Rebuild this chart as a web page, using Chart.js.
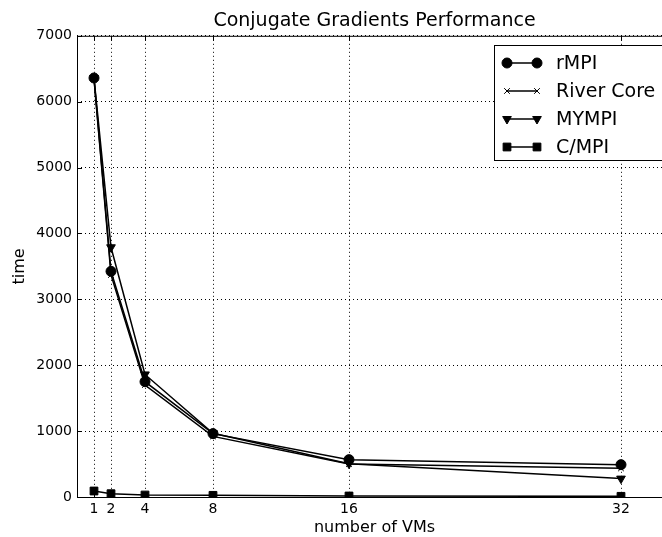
<!DOCTYPE html>
<html>
<head>
<meta charset="utf-8">
<script src="https://cdn.jsdelivr.net/npm/chart.js@4"></script>
<style>
  html, body { margin: 0; padding: 0; background: #fff; overflow: hidden; }
  #wrap { width: 700px; height: 537px; }
</style>
</head>
<body>
<div id="wrap"><canvas id="chart" width="700" height="537"></canvas></div>
<script>
// values
const vms = [1, 2, 4, 8, 16, 32];
const rMPI = [6360, 3425, 1750, 962, 567, 491];
const riverCore = [6340, 3370, 1700, 920, 500, 435];
const myMPI = [6360, 3790, 1860, 968, 505, 279];
const cMPI = [91, 50, 30, 25, 15, 10];
const xTicks = [1, 2, 4, 8, 16, 32];
const yTicks = [0, 1000, 2000, 3000, 4000, 5000, 6000, 7000];

const font = 'DejaVu Sans';

const series = [
  { label: 'rMPI', data: rMPI, style: 'circle', radius: 5, rot: 0 },
  { label: 'River Core', data: riverCore, style: 'crossRot', radius: 4, rot: 0 },
  { label: 'MYMPI', data: myMPI, style: 'triangle', radius: 5, rot: 180 },
  { label: 'C/MPI', data: cMPI, style: 'rect', radius: 5.5, rot: 0 }
];

const datasets = series.map(s => ({
  label: s.label,
  data: vms.map((v, i) => ({ x: v, y: s.data[i] })),
  borderColor: '#000',
  backgroundColor: '#000',
  borderWidth: 1.5,
  pointStyle: s.style,
  pointRadius: s.radius,
  pointRotation: s.rot,
  pointBorderWidth: 1,
  pointBorderColor: '#000',
  pointBackgroundColor: '#000',
  fill: false,
  tension: 0
}));

// frame, inside tick marks and a matplotlib style legend
const framePlugin = {
  id: 'frame',
  afterDraw(chart) {
    const { ctx, chartArea: a, scales } = chart;
    ctx.save();
    ctx.strokeStyle = '#000';
    ctx.lineWidth = 1;
    ctx.strokeRect(a.left + 0.5, a.top + 0.5, a.right - a.left, a.bottom - a.top);

    ctx.beginPath();
    xTicks.forEach(v => {
      const x = Math.round(scales.x.getPixelForValue(v)) + 0.5;
      ctx.moveTo(x, a.bottom); ctx.lineTo(x, a.bottom - 5);
      ctx.moveTo(x, a.top); ctx.lineTo(x, a.top + 5);
    });
    yTicks.forEach(v => {
      const y = Math.round(scales.y.getPixelForValue(v)) + 0.5;
      ctx.moveTo(a.left, y); ctx.lineTo(a.left + 5, y);
    });
    ctx.stroke();

    // legend box
    const bx = 494, by = 45, bw = 190, bh = 115;
    ctx.fillStyle = '#fff';
    ctx.fillRect(bx, by, bw, bh);
    ctx.strokeRect(bx + 0.5, by + 0.5, bw, bh);
    ctx.font = '19px "' + font + '"';
    ctx.textBaseline = 'middle';
    series.forEach((s, i) => {
      const y = 63 + i * 28;
      ctx.strokeStyle = '#000';
      ctx.fillStyle = '#000';
      ctx.lineWidth = 1.5;
      ctx.beginPath();
      ctx.moveTo(507, y);
      ctx.lineTo(537, y);
      ctx.stroke();
      ctx.lineWidth = 1;
      [507, 537].forEach(x => {
        Chart.helpers.drawPoint(ctx, {
          pointStyle: s.style, radius: s.radius, rotation: s.rot, borderWidth: 1
        }, x, y);
      });
      ctx.fillText(s.label, 556, y + 1);
    });
    ctx.restore();
  }
};

new Chart(document.getElementById('chart'), {
  type: 'line',
  data: { datasets },
  plugins: [framePlugin],
  options: {
    responsive: false,
    animation: false,
    layout: { padding: { left: 0, right: 28, top: 0, bottom: 0 } },
    plugins: {
      legend: { display: false },
      tooltip: { enabled: false },
      title: {
        display: true,
        fullSize: false,
        text: 'Conjugate Gradients Performance',
        color: '#000',
        font: { family: font, size: 19, weight: 'normal' },
        padding: { top: 10, bottom: 3 }
      }
    },
    scales: {
      x: {
        type: 'linear',
        min: 0,
        max: 35,
        afterBuildTicks: s => { s.ticks = xTicks.map(v => ({ value: v })); },
        afterFit: s => { s.height = 40; },
        ticks: { color: '#000', font: { family: font, size: 14 }, padding: 4, maxRotation: 0,
          callback: v => String(v) },
        grid: { color: '#000', lineWidth: 1, drawTicks: false },
        border: { display: false, dash: [1, 3] },
        title: {
          display: true, text: 'number of VMs', color: '#000',
          font: { family: font, size: 16 }, padding: { top: 0, bottom: 0 }
        }
      },
      y: {
        min: 0,
        max: 7000,
        afterBuildTicks: s => { s.ticks = yTicks.map(v => ({ value: v })); },
        afterFit: s => { s.width = 77; },
        ticks: { color: '#000', font: { family: font, size: 14 }, padding: 5,
          callback: v => String(v) },
        grid: { color: '#000', lineWidth: 1, drawTicks: false },
        border: { display: false, dash: [1, 3] },
        title: {
          display: true, text: 'time', color: '#000',
          font: { family: font, size: 16 }, padding: { top: 10, bottom: 0 }
        }
      }
    }
  }
});
</script>
</body>
</html>
